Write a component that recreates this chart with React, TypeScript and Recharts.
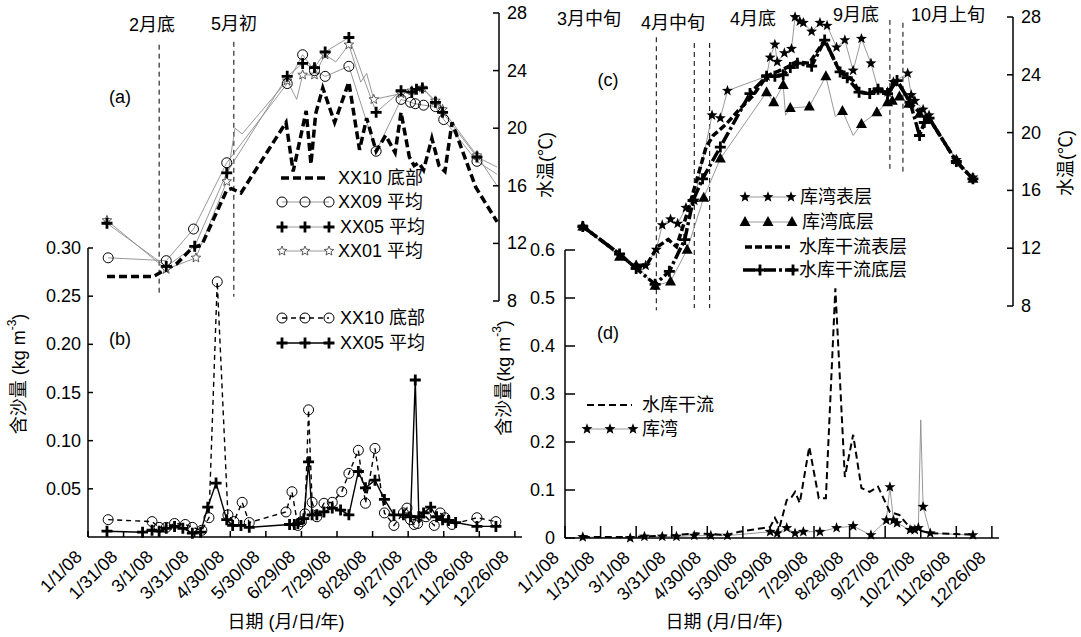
import React from 'react';
import { ComposedChart, Line, XAxis, YAxis, ReferenceLine } from 'recharts';

const W = 1081;
const H = 637;
const FONT = '"Liberation Sans", Arial, "Noto Sans CJK SC", sans-serif';
const FS = 18;

// date axis: day of year 2008
const dateTicks = [0, 30, 60, 90, 120, 150, 180, 210, 240, 270, 300, 330, 360];
const dateLabels = ['1/1/08', '1/31/08', '3/1/08', '3/31/08', '4/30/08', '5/30/08', '6/29/08', '7/29/08', '8/28/08', '9/27/08', '10/27/08', '11/26/08', '12/26/08'];
const tempTicks = [8, 12, 16, 20, 24, 28];
const bTicks = [0.05, 0.1, 0.15, 0.2, 0.25, 0.3];
const dTicks = [0, 0.1, 0.2, 0.3, 0.4, 0.5, 0.6];

// (a) water temperature, left
const aXX10Day = [16, 55, 66, 75, 88, 96, 117, 121, 129, 167, 173, 184, 188, 192, 198, 208, 220, 229, 235, 243, 251, 259, 264, 271, 275, 279, 283, 290, 296, 301, 307, 327, 345];
const aXX10T = [9.7, 9.7, 10.2, 10.6, 11.7, 11.9, 15.7, 15.8, 15.5, 20.4, 17.0, 21.2, 17.5, 21.0, 22.8, 20.4, 23.2, 18.5, 20.7, 18.4, 19.5, 18.3, 21.1, 18.0, 17.4, 17.6, 17.1, 19.3, 17.4, 17.0, 20.4, 15.9, 13.5];
const aXX09Day = [17, 66, 89, 117, 168, 181, 191, 200, 220, 243, 264, 272, 276, 283, 293, 300, 328, 345];
const aXX09T = [11.0, 10.8, 13.0, 17.6, 23.1, 25.1, 24.0, 23.6, 24.3, 18.4, 22.0, 21.8, 21.7, 21.6, 21.5, 20.6, 17.7, 16.8];
const aXX09Skip = [17];
const aXX05Day = [16, 66, 90, 117, 168, 181, 191, 200, 220, 243, 264, 273, 277, 282, 293, 299, 328, 345];
const aXX05T = [13.4, 10.4, 11.8, 16.9, 23.6, 24.5, 24.2, 25.3, 26.3, 21.1, 22.6, 22.5, 22.7, 22.8, 21.8, 21.1, 18.0, 17.3];
const aXX05Skip = [17];
const aXX01Day = [16, 66, 91, 117, 124, 130, 168, 176, 181, 191, 200, 209, 220, 230, 235, 241, 264, 273, 282, 293, 299, 328, 345];
const aXX01T = [13.6, 10.2, 11.0, 16.3, 20.0, 19.6, 23.3, 22.0, 23.7, 23.7, 25.1, 24.6, 25.8, 23.2, 23.8, 22.0, 22.4, 22.6, 22.8, 21.9, 21.3, 18.1, 16.0];
const aXX01Skip = [4, 5, 7, 11, 13, 14, 22];

// (b) sediment, left
const bXX10Day = [17, 54, 60, 66, 73, 82, 88, 96, 102, 109, 118, 123, 130, 136, 167, 172, 177, 180, 183, 186, 189, 193, 199, 206, 214, 220, 228, 234, 242, 250, 258, 266, 269, 272, 275, 278, 285, 292, 297, 301, 307, 328, 344];
const bXX10S = [0.018, 0.016, 0.010, 0.010, 0.014, 0.013, 0.010, 0.007, 0.020, 0.265, 0.023, 0.016, 0.036, 0.015, 0.026, 0.047, 0.012, 0.016, 0.024, 0.132, 0.036, 0.021, 0.035, 0.036, 0.047, 0.066, 0.090, 0.035, 0.092, 0.025, 0.012, 0.025, 0.030, 0.018, 0.013, 0.014, 0.021, 0.012, 0.025, 0.020, 0.013, 0.020, 0.016];
const bXX05Day = [16, 46, 54, 60, 66, 73, 80, 88, 95, 101, 108, 117, 122, 129, 136, 170, 174, 177, 182, 186, 189, 193, 199, 206, 213, 220, 228, 234, 242, 250, 258, 266, 272, 276, 279, 283, 289, 294, 299, 304, 310, 328, 344];
const bXX05S = [0.006, 0.005, 0.007, 0.006, 0.009, 0.011, 0.009, 0.004, 0.005, 0.031, 0.056, 0.018, 0.012, 0.012, 0.010, 0.013, 0.013, 0.014, 0.019, 0.078, 0.023, 0.023, 0.026, 0.030, 0.028, 0.023, 0.068, 0.051, 0.059, 0.039, 0.023, 0.023, 0.021, 0.163, 0.021, 0.025, 0.031, 0.021, 0.018, 0.017, 0.015, 0.011, 0.011];

// (c) water temperature, right
const cSurfDay = [15, 46, 60, 68, 77, 82, 89, 95, 102, 109, 124, 131, 137, 170, 173, 177, 179, 185, 191, 194, 198, 201, 208, 215, 221, 229, 236, 243, 250, 258, 264, 272, 277, 289, 292, 295, 302, 307, 330, 344];
const cSurfT = [13.5, 11.5, 10.8, 10.8, 11.9, 13.6, 14.0, 13.7, 14.8, 15.3, 21.2, 21.0, 22.9, 23.9, 25.2, 26.1, 24.9, 25.5, 25.8, 28.0, 27.7, 27.6, 27.0, 27.6, 27.4, 25.9, 26.4, 24.3, 26.5, 24.8, 23.0, 22.8, 23.5, 24.1, 22.6, 22.2, 21.6, 21.2, 18.1, 16.9];
const cBotDay = [15, 46, 60, 76, 89, 103, 117, 131, 170, 176, 184, 186, 190, 206, 220, 228, 234, 243, 250, 263, 272, 276, 282, 290, 299, 307, 330, 344];
const cBotT = [13.5, 11.4, 10.8, 9.4, 9.7, 11.9, 15.5, 18.2, 22.8, 22.1, 23.3, 21.2, 21.7, 21.8, 23.9, 21.1, 21.5, 19.8, 20.6, 21.4, 22.1, 22.2, 22.5, 22.0, 21.3, 20.9, 18.1, 16.8];
const cBotSkip = [11, 15, 17];
const cMainSurfDay = [15, 46, 60, 70, 78, 87, 94, 103, 111, 119, 125, 136, 147, 159, 170, 187, 195, 206, 219, 230, 236, 243, 248, 257, 264, 272, 280, 291, 299, 307, 330, 344];
const cMainSurfT = [13.5, 11.6, 10.6, 11.0, 12.1, 12.6, 12.1, 14.4, 16.7, 19.0, 19.8, 20.6, 21.6, 22.6, 23.9, 24.5, 24.9, 24.8, 26.4, 24.5, 24.0, 23.6, 22.8, 22.7, 23.0, 22.7, 23.6, 22.1, 21.4, 21.0, 18.0, 16.8];
const cMainBotDay = [15, 46, 60, 76, 88, 101, 108, 116, 131, 156, 170, 177, 184, 190, 196, 208, 219, 232, 238, 248, 257, 264, 272, 280, 291, 299, 303, 307, 330, 344];
const cMainBotT = [13.5, 11.6, 10.6, 9.5, 10.4, 12.6, 15.3, 16.8, 19.0, 22.7, 23.9, 23.9, 24.0, 24.5, 24.8, 24.6, 26.4, 24.2, 23.8, 22.8, 22.7, 23.0, 22.7, 23.6, 22.1, 19.8, 20.7, 21.0, 18.0, 16.8];

// (d) sediment, right
const dMainDay = [15, 55, 94, 111, 136, 147, 173, 177, 181, 187, 191, 194, 198, 206, 214, 220, 228, 236, 243, 250, 257, 264, 274, 282, 289, 297, 308, 344];
const dMainS = [0.002, 0.002, 0.006, 0.010, 0.006, 0.013, 0.023, 0.042, 0.023, 0.079, 0.085, 0.096, 0.073, 0.19, 0.083, 0.083, 0.52, 0.127, 0.215, 0.104, 0.096, 0.107, 0.054, 0.048, 0.027, 0.017, 0.010, 0.007];
const dBayDay = [15, 55, 67, 82, 94, 109, 123, 137, 173, 179, 187, 194, 201, 215, 229, 243, 258, 271, 274, 277, 280, 291, 295, 298, 300, 302, 308, 344];
const dBayS = [0.002, 0.0, 0.003, 0.003, 0.003, 0.005, 0.005, 0.005, 0.013, 0.010, 0.021, 0.010, 0.013, 0.013, 0.021, 0.025, 0.006, 0.037, 0.106, 0.037, 0.031, 0.017, 0.017, 0.021, 0.246, 0.065, 0.010, 0.006];
const dBaySkip = [24];

// vertical period markers (day, top/bottom in °C)
const aMarkDay = [60, 123];
const aMarkTop = [25.8, 26.0];
const aMarkBot = [8.3, 8.3];
const cMarkDay = [77, 109, 122, 274, 285];
const cMarkTop = [26.6, 26.2, 26.2, 27.8, 27.6];
const cMarkBot = [7.7, 7.85, 7.85, 17.3, 17.3];

// panel geometry (px)
const LP = { x0: 88, x1: 522, tx1: 499, tt: 13, tb: 301, st: 248, sb: 537 };
const RP = { x0: 565, x1: 999, tx1: 1013, tt: 17, tb: 306, st: 250, sb: 538 };
const DAYS = 366;

const pts = (d: number[], v: number[]) => d.map((x, i) => ({ d: x, v: v[i] }));

function star(x: number, y: number, R: number, r: number) {
  const p: string[] = [];
  for (let i = 0; i < 10; i++) {
    const a = -Math.PI / 2 + (i * Math.PI) / 5;
    const rr = i % 2 === 0 ? R : r;
    p.push(`${x + rr * Math.cos(a)},${y + rr * Math.sin(a)}`);
  }
  return p.join(' ');
}

function Mark({ kind, x, y }: { kind: string; x: number; y: number }) {
  if (kind === 'circle') return <circle cx={x} cy={y} r={5} fill="none" stroke="#000" strokeWidth={1} />;
  if (kind === 'plus')
    return <path d={`M${x - 5.5},${y}H${x + 5.5}M${x},${y - 5.5}V${y + 5.5}`} stroke="#000" strokeWidth={2.8} />;
  if (kind === 'ostar') return <polygon points={star(x, y, 5, 2.2)} fill="#fff" stroke="#333" strokeWidth={0.8} />;
  if (kind === 'star') return <polygon points={star(x, y, 5.8, 2.4)} fill="#000" />;
  if (kind === 'tri') return <polygon points={`${x},${y - 6} ${x + 5.5},${y + 4} ${x - 5.5},${y + 4}`} fill="#000" />;
  return null;
}

const dotOf = (kind: string, skip: number[] = []) => (p: any) => {
  const { cx, cy, index } = p;
  if (cx == null || cy == null || skip.includes(index)) return <g key={`d${index}`} />;
  return <Mark key={`d${index}`} kind={kind} x={cx} y={cy} />;
};

function series(key: string, data: { d: number; v: number }[], o: { stroke: string; width: number; dash?: string; mark?: string; skip?: number[] }) {
  return (
    <Line
      key={key}
      data={data}
      dataKey="v"
      type="linear"
      stroke={o.stroke}
      strokeWidth={o.width}
      strokeDasharray={o.dash}
      dot={o.mark ? dotOf(o.mark, o.skip) : false}
      activeDot={false}
      isAnimationActive={false}
    />
  );
}

const axisStyle = { stroke: '#000', strokeWidth: 1.5 };
const txt = { fontSize: FS, fontFamily: FONT, fill: '#000' };

const yTickRight = (len: number) => (p: any) => {
  const { x, y, payload } = p;
  return (
    <g key={`r${payload.value}`}>
      <line x1={x - len} x2={x} y1={y} y2={y} stroke="#000" strokeWidth={1.5} />
      <text x={x + 8} y={y} textAnchor="start" dominantBaseline="central" {...txt}>{payload.value}</text>
    </g>
  );
};

const yTickLeft = (len: number, gap: number, fmt: (v: number) => string) => (p: any) => {
  const { x, y, payload } = p;
  return (
    <g key={`l${payload.value}`}>
      <line x1={x} x2={x + len} y1={y} y2={y} stroke="#000" strokeWidth={1.5} />
      <text x={x - gap} y={y} textAnchor="end" dominantBaseline="central" {...txt}>{fmt(payload.value)}</text>
    </g>
  );
};

const xTick = (len: number) => (p: any) => {
  const { x, y, payload } = p;
  const label = dateLabels[dateTicks.indexOf(payload.value)];
  const tx = x - 5;
  const ty = y + 21;
  return (
    <g key={`x${payload.value}`}>
      <line x1={x} x2={x} y1={y} y2={y - len} stroke="#000" strokeWidth={1.5} />
      <text x={tx} y={ty} transform={`rotate(-45 ${tx} ${ty})`} textAnchor="end" {...txt}>{label}</text>
    </g>
  );
};

const box: React.CSSProperties = { position: 'absolute', left: 0, top: 0 };

function markLines(day: number[], top: number[], bot: number[]) {
  return day.map((d, i) => (
    <ReferenceLine
      key={`m${i}`}
      segment={[{ x: d, y: top[i] }, { x: d, y: bot[i] }]}
      stroke="#000"
      strokeWidth={1}
      strokeDasharray="5 4"
      ifOverflow="visible"
    />
  ));
}

function TempChart({ p, lines, marks }: { p: typeof LP; lines: React.ReactNode[]; marks: React.ReactNode[] }) {
  const dmax = (DAYS * (p.tx1 - p.x0)) / (p.x1 - p.x0);
  return (
    <div style={box}>
      <ComposedChart width={W} height={H} margin={{ top: p.tt, bottom: H - p.tb, left: p.x0, right: W - p.tx1 - 40 }}>
        <XAxis type="number" dataKey="d" domain={[0, dmax]} hide />
        <YAxis type="number" orientation="right" width={40} domain={[8, 28]} ticks={tempTicks} interval={0}
          tickSize={0} tickMargin={0} tickLine={false} axisLine={axisStyle} tick={yTickRight(6)} />
        {marks}
        {lines}
      </ComposedChart>
    </div>
  );
}

function SedChart({ p, max, ticks, tick, xLen, lines }: { p: typeof LP; max: number; ticks: number[]; tick: any; xLen: number; lines: React.ReactNode[] }) {
  return (
    <div style={box}>
      <ComposedChart width={W} height={H} margin={{ top: p.st, bottom: H - p.sb - 60, left: p.x0 - 60, right: W - p.x1 }}>
        <XAxis type="number" dataKey="d" domain={[0, DAYS]} ticks={dateTicks} interval={0} height={60}
          tickSize={0} tickMargin={0} tickLine={false} axisLine={axisStyle} tick={xTick(xLen)} />
        <YAxis type="number" width={60} domain={[0, max]} ticks={ticks} interval={0}
          tickSize={0} tickMargin={0} tickLine={false} axisLine={axisStyle} tick={tick} />
        {lines}
      </ComposedChart>
    </div>
  );
}

function Txt({ x, y, children, anchor = 'middle', rot = 0 }: { x: number; y: number; children: React.ReactNode; anchor?: string; rot?: number }) {
  return (
    <text x={x} y={y} textAnchor={anchor as any} dominantBaseline="central" {...txt}
      transform={rot ? `rotate(${rot} ${x} ${y})` : undefined}>{children}</text>
  );
}

function LegendRow({ y, x0, x1, tx, label, stroke, width, dash, mark, marks }: {
  y: number; x0: number; x1: number; tx: number; label: string; stroke: string; width: number; dash?: string; mark?: string; marks?: number[];
}) {
  return (
    <g>
      <line x1={x0} x2={x1} y1={y} y2={y} stroke={stroke} strokeWidth={width} strokeDasharray={dash} />
      {mark && (marks || []).map((mx) => <Mark key={mx} kind={mark} x={mx} y={y} />)}
      <Txt x={tx} y={y} anchor="start">{label}</Txt>
    </g>
  );
}

const GRAY = '#8c8c8c';

export default function App() {
  const aLines = [
    series('a01', pts(aXX01Day, aXX01T), { stroke: GRAY, width: 0.9, mark: 'ostar', skip: aXX01Skip }),
    series('a09', pts(aXX09Day, aXX09T), { stroke: GRAY, width: 0.9, mark: 'circle', skip: aXX09Skip }),
    series('a05', pts(aXX05Day, aXX05T), { stroke: GRAY, width: 0.9, mark: 'plus', skip: aXX05Skip }),
    series('a10', pts(aXX10Day, aXX10T), { stroke: '#000', width: 3.5, dash: '8 4' }),
  ];
  const bLines = [
    series('b10', pts(bXX10Day, bXX10S), { stroke: '#000', width: 1.4, dash: '5 4', mark: 'circle' }),
    series('b05', pts(bXX05Day, bXX05S), { stroke: '#000', width: 1.4, mark: 'plus' }),
  ];
  const cLines = [
    series('cs', pts(cSurfDay, cSurfT), { stroke: GRAY, width: 0.9, mark: 'star' }),
    series('cb', pts(cBotDay, cBotT), { stroke: GRAY, width: 0.9, mark: 'tri', skip: cBotSkip }),
    series('cms', pts(cMainSurfDay, cMainSurfT), { stroke: '#000', width: 3.5, dash: '7 3' }),
    series('cmb', pts(cMainBotDay, cMainBotT), { stroke: '#000', width: 3.5, dash: '12 3 3 3', mark: 'plus' }),
  ];
  const dLines = [
    series('db', pts(dBayDay, dBayS), { stroke: GRAY, width: 0.9, mark: 'star', skip: dBaySkip }),
    series('dm', pts(dMainDay, dMainS), { stroke: '#000', width: 2, dash: '7 4' }),
  ];

  return (
    <div style={{ position: 'absolute', left: 0, top: 0, width: W, height: H, background: '#fff', overflow: 'hidden' }}>
      <SedChart p={LP} max={0.3} ticks={bTicks} tick={yTickLeft(5, 7, (v) => v.toFixed(2))} xLen={6} lines={bLines} />
      <SedChart p={RP} max={0.6} ticks={dTicks} tick={yTickLeft(10, 10, (v) => (v === 0 ? '0' : v.toFixed(1)))} xLen={12} lines={dLines} />
      <TempChart p={LP} lines={aLines} marks={markLines(aMarkDay, aMarkTop, aMarkBot)} />
      <TempChart p={RP} lines={cLines} marks={markLines(cMarkDay, cMarkTop, cMarkBot)} />
      <svg width={W} height={H} style={{ ...box, pointerEvents: 'none' }}>
        {/* panel letters */}
        <Txt x={120} y={97}>(a)</Txt>
        <Txt x={120} y={339}>(b)</Txt>
        <Txt x={608} y={80}>(c)</Txt>
        <Txt x={608} y={333}>(d)</Txt>
        {/* period labels */}
        <Txt x={152} y={25}>2月底</Txt>
        <Txt x={234} y={24}>5月初</Txt>
        <Txt x={589} y={19}>3月中旬</Txt>
        <Txt x={673} y={23}>4月中旬</Txt>
        <Txt x={753} y={19}>4月底</Txt>
        <Txt x={856} y={15}>9月底</Txt>
        <Txt x={948} y={15}>10月上旬</Txt>
        {/* axis titles */}
        <Txt x={286} y={622}>日期 (月/日/年)</Txt>
        <Txt x={724} y={622}>日期 (月/日/年)</Txt>
        <Txt x={19} y={374} rot={-90}>含沙量 (kg m<tspan dy={-7} fontSize={12}>-3</tspan><tspan dy={7}>)</tspan></Txt>
        <Txt x={504} y={378} rot={-90}>含沙量(kg m<tspan dy={-7} fontSize={12}>-3</tspan><tspan dy={7}>)</tspan></Txt>
        <Txt x={546} y={165} rot={-90}>水温(℃)</Txt>
        <Txt x={1066} y={163} rot={-90}>水温(℃)</Txt>
        {/* legend (a) */}
        <LegendRow y={178} x0={281} x1={327} tx={338} label="XX10 底部" stroke="#000" width={3.5} dash="8 4" />
        <LegendRow y={202} x0={282} x1={329} tx={338} label="XX09 平均" stroke={GRAY} width={0.9} mark="circle" marks={[282, 305, 329]} />
        <LegendRow y={227} x0={282} x1={329} tx={340} label="XX05 平均" stroke={GRAY} width={0.9} mark="plus" marks={[282, 305, 329]} />
        <LegendRow y={251} x0={282} x1={329} tx={338} label="XX01 平均" stroke={GRAY} width={0.9} mark="ostar" marks={[282, 305, 329]} />
        {/* legend (b) */}
        <LegendRow y={318} x0={282} x1={329} tx={340} label="XX10 底部" stroke="#000" width={1.4} dash="5 4" mark="circle" marks={[282, 305, 329]} />
        <LegendRow y={343} x0={282} x1={329} tx={340} label="XX05 平均" stroke="#000" width={1.4} mark="plus" marks={[282, 305, 329]} />
        {/* legend (c) */}
        <LegendRow y={197} x0={745} x1={791} tx={800} label="库湾表层" stroke={GRAY} width={0.9} mark="star" marks={[745, 768, 791]} />
        <LegendRow y={222} x0={745} x1={792} tx={802} label="库湾底层" stroke={GRAY} width={0.9} mark="tri" marks={[745, 768, 792]} />
        <LegendRow y={247} x0={745} x1={790} tx={799} label="水库干流表层" stroke="#000" width={3.5} dash="7 3" />
        <LegendRow y={270} x0={743} x1={795} tx={799} label="水库干流底层" stroke="#000" width={3.5} dash="12 3 3 3" mark="plus" marks={[760, 793]} />
        {/* legend (d) */}
        <LegendRow y={405} x0={587} x1={632} tx={642} label="水库干流" stroke="#000" width={2} dash="7 4" />
        <LegendRow y={429} x0={587} x1={633} tx={642} label="库湾" stroke={GRAY} width={0.9} mark="star" marks={[587, 610, 633]} />
      </svg>
    </div>
  );
}
